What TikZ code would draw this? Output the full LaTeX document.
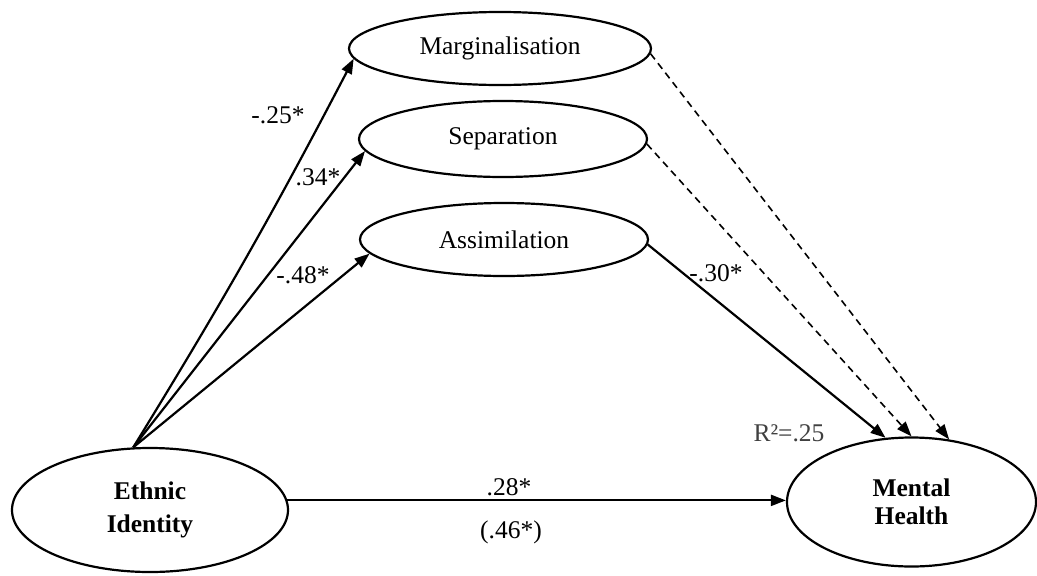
\documentclass[tikz,border=0pt]{standalone}
\usepackage{fontspec}
\setmainfont{Liberation Serif}
\usetikzlibrary{shapes.geometric, arrows.meta}

\begin{document}
\begin{tikzpicture}[x = 1pt, y = -1pt, font = \fontsize{25.5}{30}\selectfont, line width = 2.2pt, main/.style = {draw, ellipse, inner sep = 0pt}, path/.style = {-{Triangle[length = 15pt, width = 11pt]}}, nosig/.style = {path, line width = 1.6pt, dash pattern = on 7pt off 5pt}]
	\useasboundingbox (0,0) rectangle (1037,576);
	\node[main, minimum width = 276, minimum height = 124, align = center, font = \fontsize{25.5}{33}\selectfont\bfseries] (1) at (150,510) {Ethnic\\Identity};
	\node[main, minimum width = 302, minimum height = 73] (2) at (500,48.5) {Marginalisation};
	\node[main, minimum width = 288, minimum height = 76] (3) at (503,139) {Separation};
	\node[main, minimum width = 288, minimum height = 73] (4) at (504,239.5) {Assimilation};
	\node[main, minimum width = 249, minimum height = 129, align = center, font = \fontsize{25.5}{28}\selectfont\bfseries] (5) at (911.5,502) {Mental\\Health};
	\draw[path] (1.105) to[bend right = 2] (2.184);
	\draw[path] (1.105) -- (3.185);
	\draw[path] (1.105) -- (4.186);
	\draw[path] (4.358) -- (5.112);
	\draw[nosig] (3.358) -- (5.90);
	\draw[nosig] (2.358) -- (5.59);
	\draw[path] (1.4) -- (1.4 -| 5.west);
	\node (l1) at (278,115) {-.25*};
	\node (l2) at (318,177) {.34*};
	\node (l3) at (303,275) {-.48*};
	\node (l4) at (716,273) {-.30*};
	\node (l5) at (509,487) {.28*};
	\node (l6) at (511,532) {(.46*)};
	\node[text = black!75] (l7) at (789,433) {R²=.25};
\end{tikzpicture}
\end{document}
